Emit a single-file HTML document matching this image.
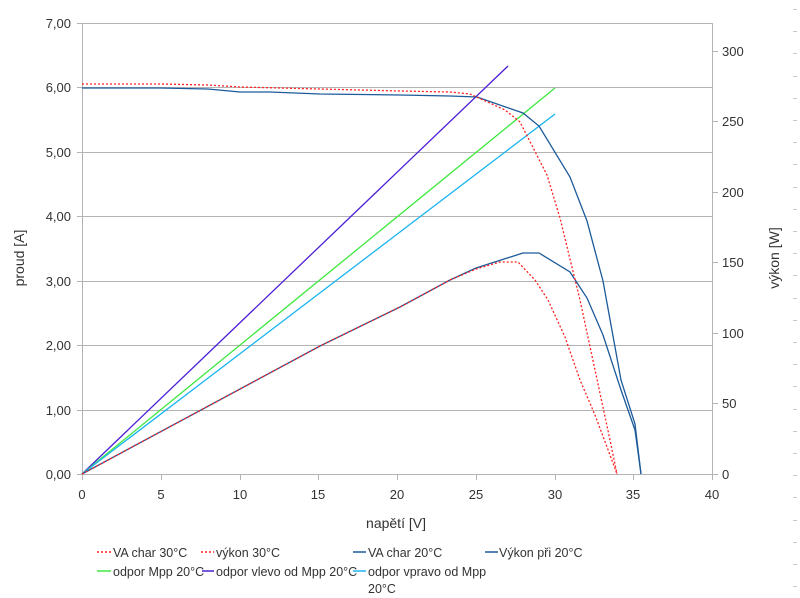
<!DOCTYPE html>
<html><head><meta charset="utf-8"><style>
html,body{margin:0;padding:0;background:#fff;}
svg{display:block;font-family:"Liberation Sans",sans-serif;}
</style></head><body>
<svg width="800" height="598" viewBox="0 0 800 598" xmlns="http://www.w3.org/2000/svg">
<rect width="800" height="598" fill="#fff"/>
<g stroke="#b3b3b3" stroke-width="1" fill="none">
<line x1="82" y1="23.5" x2="712" y2="23.5"/>
<line x1="82" y1="87.5" x2="712" y2="87.5"/>
<line x1="82" y1="152.5" x2="712" y2="152.5"/>
<line x1="82" y1="216.5" x2="712" y2="216.5"/>
<line x1="82" y1="281.5" x2="712" y2="281.5"/>
<line x1="82" y1="345.5" x2="712" y2="345.5"/>
<line x1="82" y1="410.5" x2="712" y2="410.5"/>
<line x1="82" y1="474.5" x2="712" y2="474.5"/>
<line x1="82.5" y1="23" x2="82.5" y2="474"/>
<line x1="712.5" y1="23" x2="712.5" y2="474"/>
<line x1="77" y1="23.5" x2="82" y2="23.5"/><line x1="77" y1="87.5" x2="82" y2="87.5"/><line x1="77" y1="152.5" x2="82" y2="152.5"/><line x1="77" y1="216.5" x2="82" y2="216.5"/><line x1="77" y1="281.5" x2="82" y2="281.5"/><line x1="77" y1="345.5" x2="82" y2="345.5"/><line x1="77" y1="410.5" x2="82" y2="410.5"/><line x1="77" y1="474.5" x2="82" y2="474.5"/>
<line x1="82.5" y1="474" x2="82.5" y2="480"/><line x1="161.5" y1="474" x2="161.5" y2="480"/><line x1="240.5" y1="474" x2="240.5" y2="480"/><line x1="318.5" y1="474" x2="318.5" y2="480"/><line x1="397.5" y1="474" x2="397.5" y2="480"/><line x1="476.5" y1="474" x2="476.5" y2="480"/><line x1="555.5" y1="474" x2="555.5" y2="480"/><line x1="633.5" y1="474" x2="633.5" y2="480"/><line x1="712.5" y1="474" x2="712.5" y2="480"/>
<line x1="712" y1="474.5" x2="718" y2="474.5"/><line x1="712" y1="403.5" x2="718" y2="403.5"/><line x1="712" y1="333.5" x2="718" y2="333.5"/><line x1="712" y1="262.5" x2="718" y2="262.5"/><line x1="712" y1="192.5" x2="718" y2="192.5"/><line x1="712" y1="121.5" x2="718" y2="121.5"/><line x1="712" y1="51.5" x2="718" y2="51.5"/>
</g>
<g stroke="#c8c8c8" stroke-width="1">
<line x1="793" y1="9.5" x2="797" y2="9.5"/><line x1="793" y1="31.5" x2="797" y2="31.5"/><line x1="793" y1="53.5" x2="797" y2="53.5"/><line x1="793" y1="76.5" x2="797" y2="76.5"/><line x1="793" y1="98.5" x2="797" y2="98.5"/><line x1="793" y1="120.5" x2="797" y2="120.5"/><line x1="793" y1="142.5" x2="797" y2="142.5"/><line x1="793" y1="164.5" x2="797" y2="164.5"/><line x1="793" y1="187.5" x2="797" y2="187.5"/><line x1="793" y1="209.5" x2="797" y2="209.5"/><line x1="793" y1="231.5" x2="797" y2="231.5"/><line x1="793" y1="253.5" x2="797" y2="253.5"/><line x1="793" y1="275.5" x2="797" y2="275.5"/><line x1="793" y1="298.5" x2="797" y2="298.5"/><line x1="793" y1="320.5" x2="797" y2="320.5"/><line x1="793" y1="342.5" x2="797" y2="342.5"/><line x1="793" y1="364.5" x2="797" y2="364.5"/><line x1="793" y1="386.5" x2="797" y2="386.5"/><line x1="793" y1="409.5" x2="797" y2="409.5"/><line x1="793" y1="431.5" x2="797" y2="431.5"/><line x1="793" y1="453.5" x2="797" y2="453.5"/><line x1="793" y1="475.5" x2="797" y2="475.5"/><line x1="793" y1="497.5" x2="797" y2="497.5"/><line x1="793" y1="520.5" x2="797" y2="520.5"/><line x1="793" y1="542.5" x2="797" y2="542.5"/><line x1="793" y1="564.5" x2="797" y2="564.5"/><line x1="793" y1="586.5" x2="797" y2="586.5"/>
</g>
<g font-size="13" fill="#333" text-anchor="end">
<text x="71" y="28">7,00</text><text x="71" y="92">6,00</text><text x="71" y="157">5,00</text><text x="71" y="221">4,00</text><text x="71" y="286">3,00</text><text x="71" y="350">2,00</text><text x="71" y="415">1,00</text><text x="71" y="479">0,00</text>
</g>
<g font-size="13" fill="#333" text-anchor="middle">
<text x="82" y="499">0</text><text x="161" y="499">5</text><text x="240" y="499">10</text><text x="318" y="499">15</text><text x="397" y="499">20</text><text x="476" y="499">25</text><text x="555" y="499">30</text><text x="633" y="499">35</text><text x="712" y="499">40</text>
<text x="396" y="528" font-size="14">napětí [V]</text>
<text transform="translate(24,258) rotate(-90)" font-size="14">proud [A]</text>
<text transform="translate(779,258) rotate(-90)" font-size="14">výkon [W]</text>
</g>
<g font-size="13" fill="#333">
<text x="722" y="479">0</text><text x="722" y="408">50</text><text x="722" y="338">100</text><text x="722" y="267">150</text><text x="722" y="197">200</text><text x="722" y="126">250</text><text x="722" y="56">300</text>
</g>
<g fill="none" stroke-width="1.3">
<line x1="82" y1="474" x2="508" y2="66" stroke="#4b1fd6"/>
<line x1="82" y1="474" x2="555" y2="88" stroke="#3ee83e"/>
<line x1="82" y1="474" x2="555" y2="114" stroke="#1ab4f0"/>
<polyline stroke="#1c5a9a" points="82,88 160,88 208,89 240,92 270,92 320,94 400,95 450,96 477,97 523,113 539,126 570,177 587,221 603,281 621,380 635,424 641,474"/>
<polyline stroke="#1c5a9a" points="82,474 320,346 400,307 450,280 476,268 523,253 539,253 570,272 587,298 603,335 621,390 635,430 641,474"/>
<polyline stroke="#ff2020" stroke-dasharray="2,2" points="82,84 160,84 208,85 240,87 320,89 400,91 450,92 470,94 505,110 520,122 547,175 560,218 580,300 595,370 610,440 617,474"/>
<polyline stroke="#ff2020" stroke-dasharray="2,2" points="82,474 320,346 400,307 450,280 476,269 500,262 518,262 535,280 548,300 565,337 580,380 595,415 610,455 617,474"/>
</g>
<g stroke-width="1.5">
<line x1="97" y1="552" x2="111" y2="552" stroke="#ff2020" stroke-dasharray="2,2"/>
<line x1="201" y1="552" x2="214" y2="552" stroke="#ff2020" stroke-dasharray="2,2"/>
<line x1="353" y1="552" x2="366" y2="552" stroke="#1c5a9a"/>
<line x1="485" y1="552" x2="498" y2="552" stroke="#1c5a9a"/>
<line x1="97" y1="571" x2="111" y2="571" stroke="#3ee83e"/>
<line x1="202" y1="571" x2="214" y2="571" stroke="#4b1fd6"/>
<line x1="353" y1="571" x2="366" y2="571" stroke="#1ab4f0"/>
</g>
<g font-size="12.5" fill="#333">
<text x="113" y="557">VA char 30°C</text>
<text x="216" y="557">výkon 30°C</text>
<text x="368" y="557">VA char 20°C</text>
<text x="499" y="557">Výkon při 20°C</text>
<text x="113" y="576">odpor Mpp 20°C</text>
<text x="216" y="576">odpor vlevo od Mpp 20°C</text>
<text x="368" y="576">odpor vpravo od Mpp</text>
<text x="368" y="593">20°C</text>
</g>
</svg>
</body></html>
